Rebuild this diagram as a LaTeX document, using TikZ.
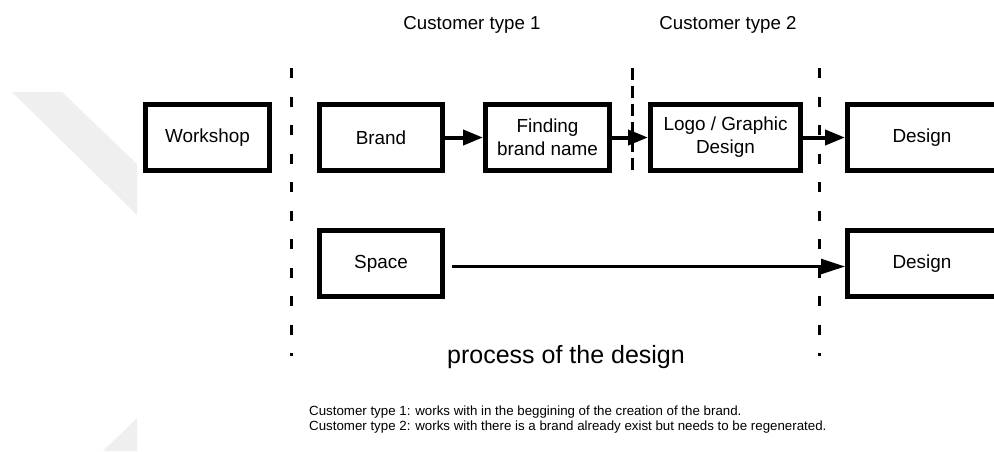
\documentclass[tikz,border=0pt]{standalone}
\usepackage{fontspec}
\setmainfont{Liberation Sans}
\usetikzlibrary{arrows.meta}
\definecolor{markgray}{HTML}{EFEFEF}
\tikzset{
  stage/.style={draw, line width=5pt, minimum height=66pt, inner sep=0pt,
    align=center, font=\fontsize{18.9}{23}\selectfont},
  flow/.style={line width=4pt, -{Triangle[length=20pt,width=15pt]}},
  flowthin/.style={line width=2.5pt, -{Triangle[length=24pt,width=15pt]}},
  divider/.style={line width=3pt, dash pattern=on 10pt off 18.5pt},
  dividershort/.style={line width=3pt, dash pattern=on 12pt off 6pt},
  heading/.style={font=\fontsize{18.7}{22}\selectfont, inner sep=0pt},
  caption/.style={font=\fontsize{25}{30}\selectfont, inner sep=0pt},
  note/.style={font=\fontsize{13.3}{15}\selectfont, anchor=west, inner sep=0pt},
}
\begin{document}
\begin{tikzpicture}[x=1pt,y=-1pt]
\useasboundingbox (0,0) rectangle (994,451);
\clip (0,0) rectangle (994,451);

% faint background chevrons
\fill[markgray] (12,92) -- (62,92) -- (137,164) -- (137,215) -- cycle;
\fill[markgray] (137,418) -- (137,451) -- (103,451) -- cycle;

% column headings
\node[heading] (type1) at (472,25) {Customer type 1};
\node[heading] (type2) at (728,25) {Customer type 2};

% dashed separators
\coordinate (d1top) at (291,68);
\coordinate (d1bot) at (291,356);
\coordinate (d2top) at (632,68);
\coordinate (d2bot) at (632,173);
\coordinate (d3top) at (819,68);
\coordinate (d3bot) at (819,356);
\draw[divider] (d1top) -- (d1bot);
\draw[dividershort] (d2top) -- (d2bot);
\draw[divider] (d3top) -- (d3bot);

% process stages
\node[stage, minimum width=124pt] (workshop) at (207.5,137.5) {Workshop};
\node[stage, minimum width=123pt] (brand) at (381,137.5) {Brand};
\node[stage, minimum width=124pt] (finding) at (547.5,137.5) {Finding\\brand name};
\node[stage, minimum width=150pt] (logo) at (725.5,137.5) {Logo / Graphic\\Design};
\node[stage, minimum width=200pt] (design1) at (947.5,137.5) {\hspace*{-51pt}Design};
\node[stage, minimum width=123pt] (space) at (381,263.5) {Space};
\node[stage, minimum width=200pt] (design2) at (947.5,263.5) {\hspace*{-51pt}Design};

% connectors
\draw[flow] (brand) -- (finding);
\draw[flow] (finding) -- (logo);
\draw[flow] (logo) -- (design1);
\draw[flowthin, shorten <=7pt] ([yshift=-3pt]space.east) -- ([yshift=-3pt]design2.west);

% captions
\node[caption] (process) at (566,357) {process of the design};
\node[note] (note1) at (309,412) {Customer type 1: works with in the beggining of the creation of the brand.};
\node[note] (note2) at (309,427) {Customer type 2: works with there is a brand already exist but needs to be regenerated.};
\end{tikzpicture}
\end{document}
